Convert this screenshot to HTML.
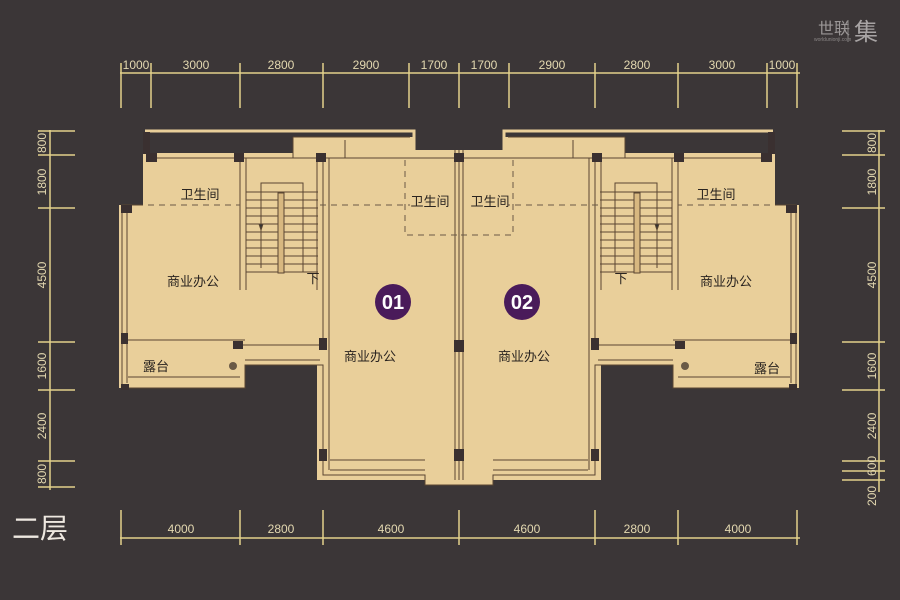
<!DOCTYPE html>
<html><head><meta charset="utf-8"><style>
html,body{margin:0;padding:0;background:#3b3637;}
svg{display:block}
text{font-family:"Liberation Sans","Noto Sans CJK SC",sans-serif;}
</style></head><body>
<svg width="900" height="600" viewBox="0 0 900 600" xmlns="http://www.w3.org/2000/svg">
<rect width="900" height="600" fill="#3b3637"/>
<!-- logo -->
<text x="818" y="34" font-size="16" fill="#9a9696" font-family="Liberation Serif,Noto Serif CJK SC,serif">世联</text>
<line x1="848" y1="20" x2="848" y2="42" stroke="#8a8686"/>
<text x="854" y="40" font-size="24" fill="#a8a4a4" font-family="Noto Serif CJK SC,serif">集</text>
<text x="814" y="41" font-size="5" fill="#8a8686">worldunionji.com</text>

<g stroke="#e3d18c" stroke-width="1.5" fill="none">
<line x1="120" y1="73" x2="800" y2="73"/>
<path d="M121 63V108M151 63V108M240 63V108M323 63V108M409 63V108M459 63V108M509 63V108M595 63V108M678 63V108M767 63V108M797 63V108"/>
<line x1="50" y1="130" x2="50" y2="490"/>
<path d="M38 131H75M38 155H75M38 208H75M38 342H75M38 390H75M38 461H75M38 487H75"/>
<line x1="879" y1="130" x2="879" y2="492"/>
<path d="M842 131H885M842 155H885M842 208H885M842 342H885M842 390H885M842 461H885M842 471H885M842 480H885"/>
<line x1="120" y1="538" x2="800" y2="538"/>
<path d="M121 510V545M240 510V545M323 510V545M459 510V545M595 510V545M678 510V545M797 510V545"/>
</g>
<g fill="#e3d8b0" font-size="12" text-anchor="middle">
<text x="136" y="69">1000</text><text x="196" y="69">3000</text><text x="281" y="69">2800</text><text x="366" y="69">2900</text><text x="434" y="69">1700</text><text x="484" y="69">1700</text><text x="552" y="69">2900</text><text x="637" y="69">2800</text><text x="722" y="69">3000</text><text x="782" y="69">1000</text>
<text x="181" y="533">4000</text><text x="281" y="533">2800</text><text x="391" y="533">4600</text><text x="527" y="533">4600</text><text x="637" y="533">2800</text><text x="738" y="533">4000</text>
<g transform="translate(46,0)">
<text transform="translate(0,143) rotate(-90)">800</text><text transform="translate(0,182) rotate(-90)">1800</text><text transform="translate(0,275) rotate(-90)">4500</text><text transform="translate(0,366) rotate(-90)">1600</text><text transform="translate(0,426) rotate(-90)">2400</text><text transform="translate(0,474) rotate(-90)">800</text>
</g>
<g transform="translate(876,0)">
<text transform="translate(0,143) rotate(-90)">800</text><text transform="translate(0,182) rotate(-90)">1800</text><text transform="translate(0,275) rotate(-90)">4500</text><text transform="translate(0,366) rotate(-90)">1600</text><text transform="translate(0,426) rotate(-90)">2400</text><text transform="translate(0,466) rotate(-90)">600</text><text transform="translate(0,496) rotate(-90)">200</text>
</g>
</g>
<text x="12" y="538" font-size="28" fill="#eee8e0" font-family="Noto Sans CJK SC,sans-serif">二层</text>

<g id="half">
<path d="M145 131H414V155" stroke="#e9cf9a" stroke-width="3" fill="none"/>
<g fill="#e9cf9a">
<rect x="293" y="137" width="122" height="20"/>
<rect x="143" y="153" width="316" height="187"/>
<rect x="119" y="205" width="126" height="183"/>
<rect x="245" y="338" width="78" height="27"/>
<rect x="317" y="150" width="142" height="330"/>
<rect x="425" y="455" width="34" height="30"/>
</g>
<g fill="none" stroke="#5a4632" stroke-width="1">
<path d="M143 205H122V388H245V365H323V475H425V485H459"/>
<path d="M127 210V383M323 158V340M329 158V470"/>
<path d="M122 340H245M243 345H323M245 360H320M128 377H240"/>
<path d="M151 158H459M293 137V158M345 140V158M293 137H410"/>
<path d="M240 158V290M246 158V290M317 158V290"/>
<path d="M459 150V480M455 150V480"/>
<path d="M330 470H425M330 460H425"/>
</g>
<path d="M148 205H240M405 160V235H459M320 205H410" stroke="#6a5a46" stroke-dasharray="6,5" fill="none"/>
<g stroke="#5a4632" stroke-width="1" fill="none">
<path d="M246 192H318M246 200H318M246 208H318M246 216H318M246 224H318M246 232H318M246 240H318M246 248H318M246 256H318M246 264H318M246 272H318"/>
<rect x="278" y="193" width="6" height="80" fill="#d8b880"/>
<path d="M261 268V183H303V272"/>
<path d="M261 230l-2 -6h4z" fill="#333"/>
</g>
<g fill="#3a3030">
<rect x="146" y="153" width="11" height="9"/><rect x="234" y="153" width="10" height="9"/><rect x="316" y="153" width="10" height="9"/><rect x="454" y="153" width="10" height="9"/>
<rect x="121" y="205" width="11" height="8"/><rect x="121" y="333" width="7" height="11"/><rect x="233" y="341" width="10" height="8"/><rect x="319" y="338" width="8" height="12"/><rect x="454" y="340" width="9" height="12"/>
<rect x="319" y="449" width="8" height="12"/><rect x="454" y="449" width="9" height="12"/><rect x="121" y="384" width="8" height="6"/>
<rect x="143" y="132" width="7" height="22"/>
</g>
<circle cx="233" cy="366" r="4" fill="#6a5a46"/>
</g>
<use href="#half" transform="translate(918,0) scale(-1,1)"/>

<circle cx="393" cy="302" r="18" fill="#4a1b5a"/>
<circle cx="522" cy="302" r="18" fill="#4a1b5a"/>
<g font-weight="bold" font-size="20" fill="#fff" text-anchor="middle">
<text x="393" y="309">01</text><text x="522" y="309">02</text>
</g>
<g font-size="13" fill="#2a2420" text-anchor="middle">
<text x="200" y="199">卫生间</text><text x="430" y="206">卫生间</text><text x="490" y="206">卫生间</text><text x="716" y="199">卫生间</text>
<text x="193" y="286">商业办公</text><text x="370" y="361">商业办公</text><text x="524" y="361">商业办公</text><text x="726" y="286">商业办公</text>
<text x="156" y="371">露台</text><text x="767" y="373">露台</text>
<text x="313" y="283">下</text><text x="621" y="283">下</text>
</g>
</svg>
</body></html>
